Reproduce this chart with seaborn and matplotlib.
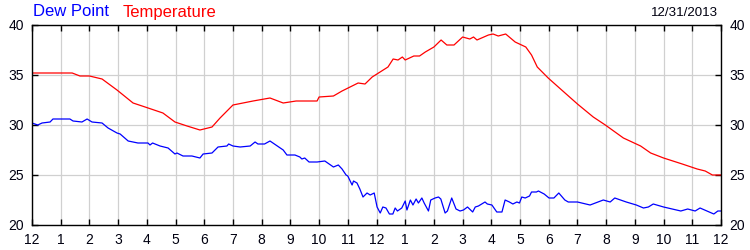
import matplotlib
matplotlib.use("Agg")
import matplotlib.pyplot as plt
import seaborn as sns
import pandas as pd

# Hours since midnight (0..24) and readings
temp_hours = [0, 1.4, 1.67, 2.0, 2.44, 2.96, 3.52, 3.94, 4.56, 4.98, 5.4, 5.85, 6.27,
              6.55, 7.0, 7.7, 8.29, 8.75, 9.2, 9.93, 10.0, 10.5, 10.8, 11.36, 11.6,
              11.85, 12.4, 12.58, 12.75, 12.9, 13.0, 13.3, 13.5, 13.7, 14.0, 14.25,
              14.45, 14.7, 15.0, 15.25, 15.38, 15.5, 15.9, 16.06, 16.24, 16.5, 16.83,
              17.2, 17.4, 17.6, 17.98, 18.45, 19.0, 19.55, 19.97, 20.6, 21.2, 21.55,
              22.0, 22.65, 23.17, 23.45, 23.7, 24.0]
temp_values = [35.2, 35.2, 34.9, 34.9, 34.6, 33.5, 32.2, 31.8, 31.2, 30.3, 29.9, 29.5, 29.8,
               30.7, 32.0, 32.4, 32.7, 32.2, 32.4, 32.4, 32.8, 32.9, 33.4, 34.2, 34.1,
               34.8, 35.8, 36.6, 36.5, 36.8, 36.5, 36.9, 36.9, 37.3, 37.8, 38.5,
               38.0, 38.0, 38.8, 38.6, 38.8, 38.5, 39.0, 39.1, 38.9, 39.1, 38.3,
               37.8, 37.0, 35.8, 34.7, 33.5, 32.1, 30.8, 30.0, 28.7, 27.9, 27.2,
               26.7, 26.1, 25.6, 25.4, 25.0, 25.0]

dew_hours = [0, 0.2, 0.35, 0.63, 0.73, 1.32, 1.43, 1.74, 1.92, 2.09, 2.44, 2.65, 2.96,
             3.07, 3.35, 3.52, 3.69, 4.04, 4.11, 4.2, 4.46, 4.74, 4.98, 5.05, 5.26,
             5.57, 5.85, 5.96, 6.27, 6.48, 6.79, 6.85, 7.0, 7.25, 7.6, 7.77, 7.87,
             8.1, 8.29, 8.75, 8.88, 9.16, 9.33, 9.4, 9.5, 9.65, 9.93, 10.2, 10.5,
             10.67, 10.8, 10.94, 11.0, 11.15, 11.2, 11.32, 11.42, 11.53, 11.67, 11.78,
             11.92, 12.02, 12.13, 12.22, 12.33, 12.45, 12.57, 12.65, 12.73, 12.88, 13.0,
             13.06, 13.18, 13.27, 13.38, 13.46, 13.58, 13.66, 13.81, 13.89, 14.04, 14.16,
             14.24, 14.39, 14.47, 14.62, 14.77, 14.91, 15.03, 15.17, 15.24, 15.35, 15.44,
             15.55, 15.78, 15.86, 16.02, 16.19, 16.37, 16.48, 16.63, 16.75, 16.89, 16.98,
             17.06, 17.18, 17.33, 17.4, 17.57, 17.64, 17.84, 18.01, 18.18,
             18.35, 18.56, 18.68, 19.0, 19.44, 19.9, 20.14, 20.3, 20.7, 21.05, 21.3,
             21.47, 21.64, 22.0, 22.6, 22.84, 23.1, 23.27, 23.51, 23.75, 23.89, 24.0]
dew_values = [30.2, 30.0, 30.2, 30.3, 30.6, 30.6, 30.4, 30.3, 30.6, 30.3, 30.2, 29.7, 29.2,
              29.1, 28.4, 28.3, 28.2, 28.2, 28.0, 28.2, 27.9, 27.7, 27.1, 27.2, 26.9,
              26.9, 26.7, 27.1, 27.2, 27.8, 27.9, 28.1, 27.9, 27.8, 27.9, 28.3, 28.1,
              28.1, 28.4, 27.5, 27.0, 27.0, 26.8, 26.6, 26.7, 26.3, 26.3, 26.4, 25.8,
              26.0, 25.6, 25.0, 24.9, 24.0, 24.4, 24.2, 23.6, 22.8, 23.2, 23.0,
              23.2, 21.8, 21.2, 21.8, 21.7, 21.1, 21.1, 21.7, 21.4, 21.7, 22.4,
              21.5, 22.5, 22.0, 22.6, 22.2, 22.7, 22.2, 21.4, 22.5, 22.7, 22.8,
              22.6, 21.2, 21.4, 22.7, 21.6, 21.4, 21.5, 21.8, 21.6, 21.3, 21.8,
              21.9, 22.3, 22.1, 22.0, 21.3, 21.3, 22.5, 22.3, 22.1, 22.3, 22.2,
              22.8, 22.7, 22.9, 23.3, 23.3, 23.4, 23.1, 22.7, 22.7,
              23.2, 22.5, 22.3, 22.3, 22.0, 22.5, 22.3, 22.7, 22.3, 22.0, 21.7,
              21.8, 22.1, 21.8, 21.4, 21.6, 21.4, 21.7, 21.4, 21.1, 21.4, 21.4]

x_tick_labels = ["12", "1", "2", "3", "4", "5", "6", "7", "8", "9", "10", "11",
                 "12", "1", "2", "3", "4", "5", "6", "7", "8", "9", "10", "11", "12"]
y_ticks = [20, 25, 30, 35, 40]
date_label = "12/31/2013"
series_names = ["Dew Point", "Temperature"]
series_colors = ["#0000ff", "#ff0000"]

sns.set_style("white")
plt.rcParams["font.family"] = ["Liberation Sans", "DejaVu Sans"]

temp_df = pd.DataFrame({"hour": temp_hours, "value": temp_values})
dew_df = pd.DataFrame({"hour": dew_hours, "value": dew_values})

fig = plt.figure(figsize=(7.5, 2.5), dpi=100)
ax = fig.add_axes([32 / 750, 25 / 250, 689 / 750, 200 / 250])

sns.lineplot(data=temp_df, x="hour", y="value", ax=ax, color=series_colors[1], linewidth=0.9)
sns.lineplot(data=dew_df, x="hour", y="value", ax=ax, color=series_colors[0], linewidth=0.9)

ax.set_xlim(0, 24)
ax.set_ylim(20, 40)
ax.set_xticks(range(25))
ax.set_xticklabels(x_tick_labels)
ax.set_yticks(y_ticks)
ax.set_xlabel("")
ax.set_ylabel("")

ax.grid(True, color="#d0d0d0", linewidth=0.9)
ax.set_axisbelow(True)
for s in ax.spines.values():
    s.set_color("black")
    s.set_linewidth(1.0)
    s.set_visible(True)

ax.tick_params(axis="both", direction="in", length=4, width=1, color="black",
               labelsize=10, labelcolor="#000010")
ax.tick_params(axis="x", top=True, bottom=True, pad=6)
ax.tick_params(axis="y", left=True, right=True, labelleft=True, labelright=True, pad=6)

fig.text(33 / 750, 1 - 12 / 250, series_names[0], color=series_colors[0],
         fontsize=12, ha="left", va="center")
fig.text(123 / 750, 1 - 12 / 250, series_names[1], color=series_colors[1],
         fontsize=12, ha="left", va="center")
fig.text(718 / 750, 1 - 13 / 250, date_label, color="#000010",
         fontsize=9.6, ha="right", va="center")

fig.savefig("out.png", dpi=100)
